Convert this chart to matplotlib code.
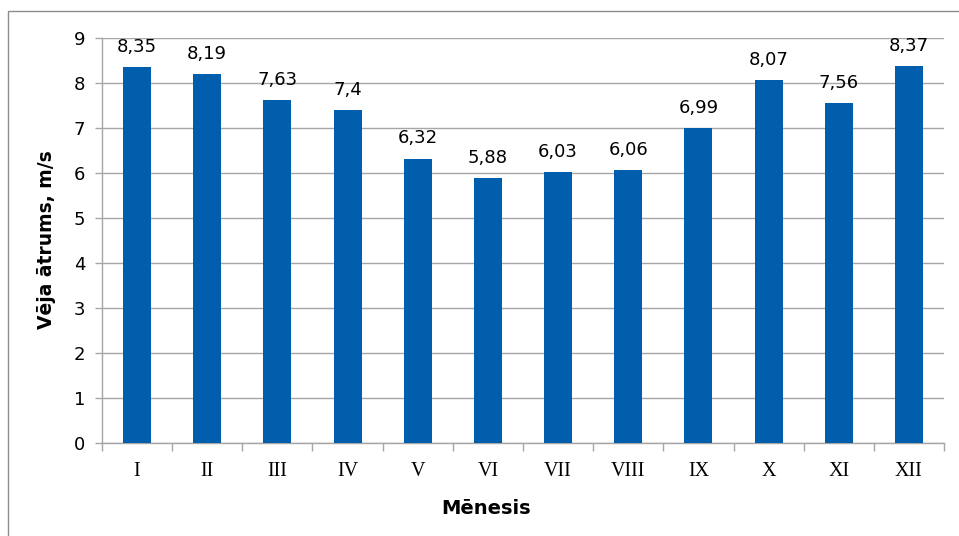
import matplotlib
matplotlib.use("Agg")
import matplotlib.pyplot as plt
from matplotlib.patches import Rectangle

plt.rcParams["font.family"] = ["DejaVu Sans"]

months = ["I", "II", "III", "IV", "V", "VI", "VII", "VIII", "IX", "X", "XI", "XII"]
wind_speed = [8.35, 8.19, 7.63, 7.4, 6.32, 5.88, 6.03, 6.06, 6.99, 8.07, 7.56, 8.37]
value_labels = ["8,35", "8,19", "7,63", "7,4", "6,32", "5,88", "6,03", "6,06", "6,99", "8,07", "7,56", "8,37"]
y_ticks = [0, 1, 2, 3, 4, 5, 6, 7, 8, 9]

W, H = 959, 536
fig = plt.figure(figsize=(W / 100, H / 100), dpi=100)
fig.patches.append(Rectangle((8 / W, 0 - 0.01), 1.02, 1 - 11 / H + 0.01, transform=fig.transFigure,
                             fill=False, edgecolor="#8c8c8c", linewidth=1.0))

ax = fig.add_axes([102 / W, 1 - 443 / H, (944 - 102) / W, (443 - 38) / H])
grid_c = "#a6a6a6"
x = range(len(months))
ax.bar(x, wind_speed, width=0.4, color="#005EAD", zorder=3)
ax.set_xlim(-0.5, len(months) - 0.5)
ax.set_ylim(0, 9)
ax.set_yticks(y_ticks)
ax.yaxis.grid(True, color=grid_c, linewidth=1.0, zorder=0)
for s in ["top", "right"]:
    ax.spines[s].set_visible(False)
for s in ["left", "bottom"]:
    ax.spines[s].set_color(grid_c)
    ax.spines[s].set_linewidth(1.0)
ax.set_xticks([i - 0.5 for i in range(len(months) + 1)], minor=False)
ax.set_xticklabels([])
ax.set_xticks(list(x), minor=True)
ax.set_xticklabels(months, minor=True, fontfamily="Liberation Serif", fontsize=14.5)
ax.tick_params(axis="x", which="major", length=6, color=grid_c, width=1.0)
ax.tick_params(axis="x", which="minor", length=0, pad=14)
ax.tick_params(axis="y", length=5, color=grid_c, width=1.0, labelsize=13, pad=7)

for i, (v, lab) in enumerate(zip(wind_speed, value_labels)):
    ax.annotate(lab, (i, v), xytext=(0, 8), textcoords="offset points",
                ha="center", va="bottom", fontsize=13)

fig.text(47 / W, 1 - 240 / H, "Vēja ātrums, m/s", rotation=90, ha="center", va="center",
         fontsize=13.5, fontweight="bold")
fig.text(486 / W, 1 - 509 / H, "Mēnesis", ha="center", va="center", fontsize=14, fontweight="bold")

fig.savefig("out.png", dpi=100)
